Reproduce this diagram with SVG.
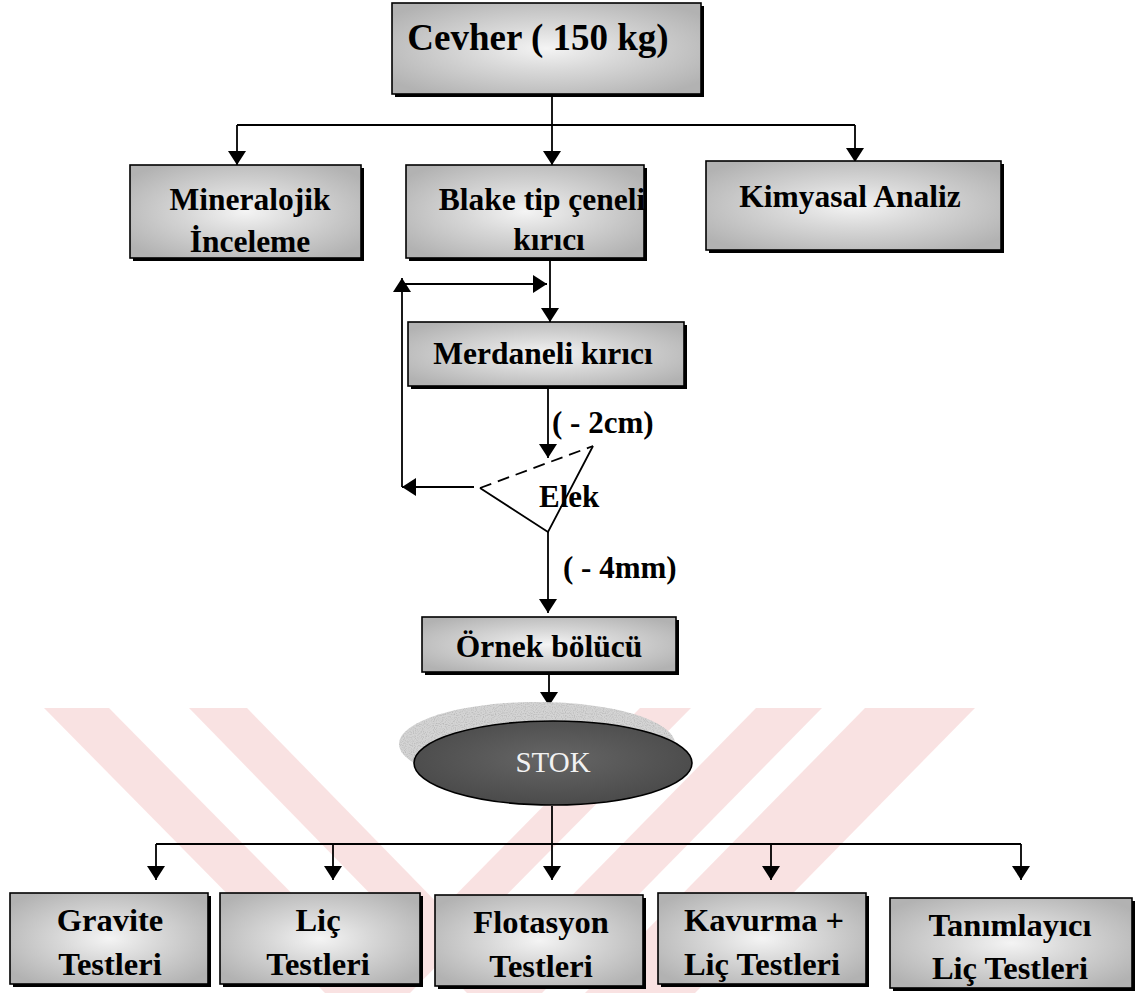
<svg xmlns="http://www.w3.org/2000/svg" width="1140" height="993" viewBox="0 0 1140 993">
  <defs>
    <radialGradient id="boxFill" cx="50%" cy="50%" r="62%">
      <stop offset="0%" stop-color="#f4f4f4"/>
      <stop offset="40%" stop-color="#d8d8d8"/>
      <stop offset="100%" stop-color="#b2b2b2"/>
    </radialGradient>
    <radialGradient id="stokFill" cx="50%" cy="45%" r="60%">
      <stop offset="0%" stop-color="#666"/>
      <stop offset="100%" stop-color="#484848"/>
    </radialGradient>
    <filter id="grain" x="0" y="0" width="100%" height="100%">
      <feTurbulence type="fractalNoise" baseFrequency="0.9" numOctaves="1" seed="3" result="n"/>
      <feColorMatrix in="n" type="matrix" values="0 0 0 0 0.45  0 0 0 0 0.45  0 0 0 0 0.45  0 0 0 -2.2 1.25" result="dots"/>
      <feComposite in="dots" in2="SourceGraphic" operator="in" result="d2"/>
      <feMerge><feMergeNode in="SourceGraphic"/><feMergeNode in="d2"/></feMerge>
    </filter>
    <marker id="arrow" viewBox="0 0 14 18" refX="14" refY="9" markerWidth="14" markerHeight="18" markerUnits="userSpaceOnUse" orient="auto">
      <path d="M0,0 L14,9 L0,18 Z" fill="#000"/>
    </marker>
    <style>
      .box { fill: url(#boxFill); stroke: #000; stroke-width: 1.6; }
      .shadow { fill: #000; }
      .lbl { font-family: "Liberation Serif", "Times New Roman", serif; font-weight: bold; fill: #000; text-anchor: middle; }
      .big { font-size: 37px; }
      .mid { font-size: 31.5px; }
      .low { font-size: 32.5px; }
      .note { font-family: "Liberation Serif", "Times New Roman", serif; font-weight: bold; font-size: 31px; fill: #000; }
      .conn { fill: none; stroke: #000; stroke-width: 1.8; }
      .wm { fill: #f9dede; }
    </style>
  </defs>

  <rect width="1140" height="993" fill="#fff"/>

  <!-- faint striped emblem behind the lower part -->
  <g id="emblem" opacity="0.85">
    <polygon class="wm" points="44,708 109,708 390,993 325,993"/>
    <polygon class="wm" points="189,708 247,708 525,993 467,993"/>
    <polygon class="wm" points="640,708 691,708 410,993 359,993"/>
    <polygon class="wm" points="756,708 822,708 542,993 476,993"/>
    <polygon class="wm" points="865,708 975,708 695,993 585,993"/>
  </g>

  <!-- connectors -->
  <g id="connectors">
    <path class="conn" d="M552,95 V165" marker-end="url(#arrow)"/>
    <path class="conn" d="M237,125 H855"/>
    <path class="conn" d="M237,125 V165" marker-end="url(#arrow)"/>
    <path class="conn" d="M855,125 V162" marker-end="url(#arrow)"/>
    <path class="conn" d="M550,260 V322" marker-end="url(#arrow)"/>
    <path class="conn" d="M402,284 H547" marker-end="url(#arrow)"/>
    <path class="conn" d="M402,487 V278" marker-end="url(#arrow)"/>
    <path class="conn" d="M474,487 H402" marker-end="url(#arrow)"/>
    <path class="conn" d="M548,389 V458" marker-end="url(#arrow)"/>
    <path class="conn" d="M548,532 V613" marker-end="url(#arrow)"/>
    <path class="conn" d="M549,675 V706" marker-end="url(#arrow)"/>
    <path class="conn" d="M552,806 V880" marker-end="url(#arrow)"/>
    <path class="conn" d="M156,844 H1021"/>
    <path class="conn" d="M156,844 V880" marker-end="url(#arrow)"/>
    <path class="conn" d="M333,844 V880" marker-end="url(#arrow)"/>
    <path class="conn" d="M771,844 V880" marker-end="url(#arrow)"/>
    <path class="conn" d="M1021,844 V880" marker-end="url(#arrow)"/>
  </g>

  <g id="cevher">
    <rect class="shadow" x="395" y="6" width="309" height="91"/>
    <rect class="box" x="392" y="3" width="309" height="91"/>
    <text class="lbl big" x="538" y="50">Cevher ( 150 kg)</text>
  </g>

  <g id="mineralojik">
    <rect class="shadow" x="133" y="168" width="231" height="93"/>
    <rect class="box" x="130" y="165" width="231" height="93"/>
    <text class="lbl mid" x="250" y="210">Mineralojik</text>
    <text class="lbl mid" x="250" y="252">İnceleme</text>
  </g>

  <g id="blake">
    <rect class="shadow" x="409" y="168" width="238" height="93"/>
    <rect class="box" x="406" y="165" width="238" height="93"/>
    <text class="lbl mid" x="542" y="210">Blake tip çeneli</text>
    <text class="lbl mid" x="549" y="250">kırıcı</text>
  </g>

  <g id="kimyasal">
    <rect class="shadow" x="709" y="164" width="295" height="89"/>
    <rect class="box" x="706" y="161" width="295" height="89"/>
    <text class="lbl mid" x="850" y="207">Kimyasal Analiz</text>
  </g>

  <g id="merdaneli">
    <rect class="shadow" x="411" y="325" width="276" height="64"/>
    <rect class="box" x="408" y="322" width="276" height="64"/>
    <text class="lbl mid" x="543" y="364">Merdaneli kırıcı</text>
  </g>

  <g id="elek">
    <path class="conn" d="M480,488 L593,446" stroke-dasharray="12,7"/>
    <path class="conn" d="M593,446 L548,532 L480,488"/>
    <text class="note" x="539" y="507">Elek</text>
  </g>

  <text class="note" x="552" y="433">( - 2cm)</text>
  <text class="note" x="563" y="578">( - 4mm)</text>

  <g id="ornek">
    <rect class="shadow" x="425" y="620" width="254" height="55"/>
    <rect class="box" x="422" y="617" width="254" height="55"/>
    <text class="lbl mid" x="549" y="657">Örnek bölücü</text>
  </g>

  <g id="stok">
    <ellipse cx="537" cy="744" rx="138" ry="42" fill="#d4d4d4" filter="url(#grain)"/>
    <ellipse cx="553" cy="763" rx="139" ry="42" fill="url(#stokFill)" stroke="#000" stroke-width="1.6"/>
    <text x="553" y="772" font-family="'Liberation Serif', 'Times New Roman', serif" font-size="29" fill="#f2f2f2" text-anchor="middle">STOK</text>
  </g>

  <g id="gravite">
    <rect class="shadow" x="13" y="896" width="198" height="91"/>
    <rect class="box" x="10" y="893" width="198" height="91"/>
    <text class="lbl low" x="110" y="931">Gravite</text>
    <text class="lbl low" x="110" y="975">Testleri</text>
  </g>

  <g id="lic">
    <rect class="shadow" x="223" y="896" width="200" height="91"/>
    <rect class="box" x="220" y="893" width="200" height="91"/>
    <text class="lbl low" x="318" y="931">Liç</text>
    <text class="lbl low" x="318" y="975">Testleri</text>
  </g>

  <g id="flotasyon">
    <rect class="shadow" x="438" y="898" width="208" height="91"/>
    <rect class="box" x="435" y="895" width="208" height="91"/>
    <text class="lbl low" x="541" y="933">Flotasyon</text>
    <text class="lbl low" x="541" y="977">Testleri</text>
  </g>

  <g id="kavurma">
    <rect class="shadow" x="661" y="896" width="208" height="91"/>
    <rect class="box" x="658" y="893" width="208" height="91"/>
    <text class="lbl low" x="764" y="931">Kavurma +</text>
    <text class="lbl low" x="762" y="975">Liç Testleri</text>
  </g>

  <g id="tanimlayici">
    <rect class="shadow" x="893" y="901" width="242" height="90"/>
    <rect class="box" x="890" y="898" width="242" height="90"/>
    <text class="lbl low" x="1010" y="936">Tanımlayıcı</text>
    <text class="lbl low" x="1010" y="979">Liç Testleri</text>
  </g>
</svg>
